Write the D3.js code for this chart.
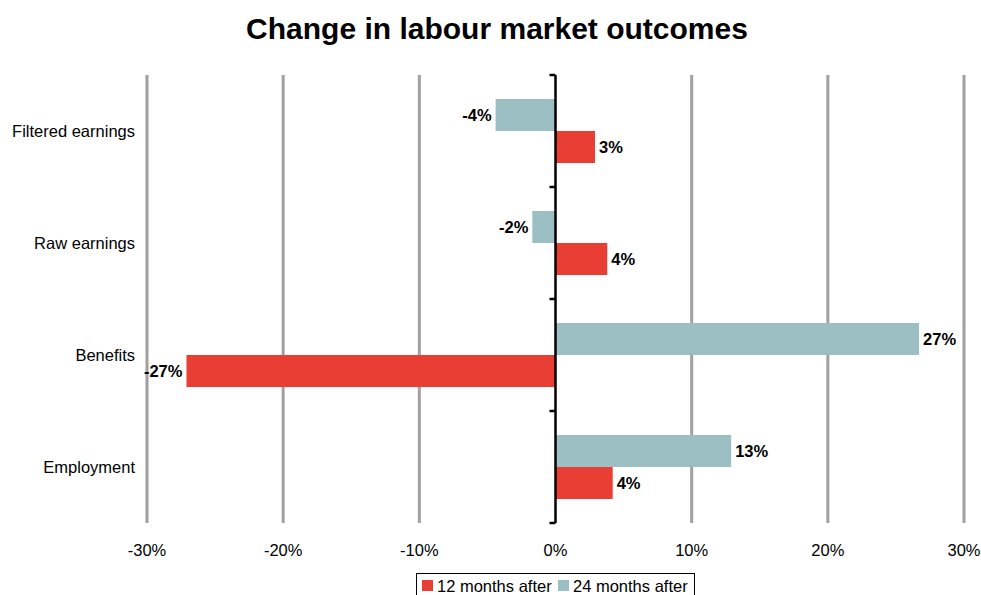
<!DOCTYPE html>
<html>
<head>
<meta charset="utf-8">
<script src="https://cdn.jsdelivr.net/npm/d3@7"></script>
<style>
  body { margin: 0; background: #fff; }
  svg text { font-family: "Liberation Sans", Arial, sans-serif; }
</style>
</head>
<body>
<div id="chart"></div>
<script>
var categories = ["Filtered earnings", "Raw earnings", "Benefits", "Employment"];
var seriesNames = ["12 months after", "24 months after"];
var months12 = [0.029, 0.038, -0.271, 0.042];
var months24 = [-0.044, -0.017, 0.267, 0.129];
var tickValues = [-0.3, -0.2, -0.1, 0, 0.1, 0.2, 0.3];
var colors = ["#e83e33", "#9bbfc2"];

var w = 981, h = 595,
    plotLeft = 147, plotRight = 964,
    plotTop = 75, plotBottom = 523,
    fs = 16.5;

var svg = d3.select("#chart").append("svg")
    .attr("width", w)
    .attr("height", h);

svg.append("text")
    .attr("x", 497).attr("y", 39)
    .attr("text-anchor", "middle")
    .attr("font-size", 30).attr("font-weight", "bold")
    .text("Change in labour market outcomes");

var x = d3.scaleLinear().domain([-0.3, 0.3]).range([plotLeft, plotRight]);
var y = d3.scaleBand().domain(categories).range([plotTop, plotBottom]);
var inner = d3.scaleBand().domain(["24", "12"]).range([0, y.bandwidth()]).paddingOuter(0.75);

// gridlines
svg.append("g").selectAll("line")
    .data(tickValues.filter(function (d) { return d !== 0; }))
    .enter().append("line")
    .attr("x1", function (d) { return x(d); })
    .attr("x2", function (d) { return x(d); })
    .attr("y1", plotTop).attr("y2", plotBottom)
    .attr("stroke", "#a0a0a0").attr("stroke-width", 3);

// tick labels
svg.append("g").selectAll("text")
    .data(tickValues)
    .enter().append("text")
    .attr("x", function (d) { return x(d); })
    .attr("y", 556)
    .attr("text-anchor", "middle")
    .attr("font-size", fs)
    .text(function (d) { return Math.round(d * 100) + "%"; });

// category labels
svg.append("g").selectAll("text")
    .data(categories)
    .enter().append("text")
    .attr("x", 135)
    .attr("y", function (d) { return y(d) + y.bandwidth() / 2 + 6; })
    .attr("text-anchor", "end")
    .attr("font-size", fs)
    .text(function (d) { return d; });

function drawSeries(values, key, color) {
    var g = svg.append("g");
    g.selectAll("rect")
        .data(values)
        .enter().append("rect")
        .attr("x", function (d) { return Math.min(x(0), x(d)); })
        .attr("y", function (d, i) { return y(categories[i]) + inner(key); })
        .attr("width", function (d) { return Math.abs(x(d) - x(0)); })
        .attr("height", inner.bandwidth())
        .attr("fill", color);
    g.selectAll("text")
        .data(values)
        .enter().append("text")
        .attr("x", function (d) { return d < 0 ? x(d) - 4 : x(d) + 4; })
        .attr("y", function (d, i) { return y(categories[i]) + inner(key) + inner.bandwidth() / 2 + 6; })
        .attr("text-anchor", function (d) { return d < 0 ? "end" : "start"; })
        .attr("font-size", fs).attr("font-weight", "bold")
        .text(function (d) { return Math.round(d * 100) + "%"; });
}
drawSeries(months24, "24", colors[1]);
drawSeries(months12, "12", colors[0]);

// zero axis with category ticks
var axis = svg.append("g");
axis.append("line")
    .attr("x1", x(0)).attr("x2", x(0))
    .attr("y1", plotTop).attr("y2", plotBottom)
    .attr("stroke", "#000").attr("stroke-width", 2.5);
axis.selectAll("line.tick")
    .data(categories.map(function (c) { return y(c); }).concat([plotBottom]))
    .enter().append("line").attr("class", "tick")
    .attr("x1", x(0) - 6).attr("x2", x(0))
    .attr("y1", function (d) { return d; }).attr("y2", function (d) { return d; })
    .attr("stroke", "#000").attr("stroke-width", 2.5);

// legend
var lg = svg.append("g").attr("transform", "translate(416,573)");
lg.append("rect")
    .attr("x", 0.5).attr("y", 0.5).attr("width", 278).attr("height", 26)
    .attr("fill", "#fff").attr("stroke", "#000");
var lx = [6, 142];
seriesNames.forEach(function (s, i) {
    lg.append("rect").attr("x", lx[i]).attr("y", 7).attr("width", 11).attr("height", 11).attr("fill", colors[i]);
    lg.append("text").attr("x", lx[i] + 15).attr("y", 18.5)
        .attr("font-size", fs).text(s);
});
</script>
</body>
</html>
